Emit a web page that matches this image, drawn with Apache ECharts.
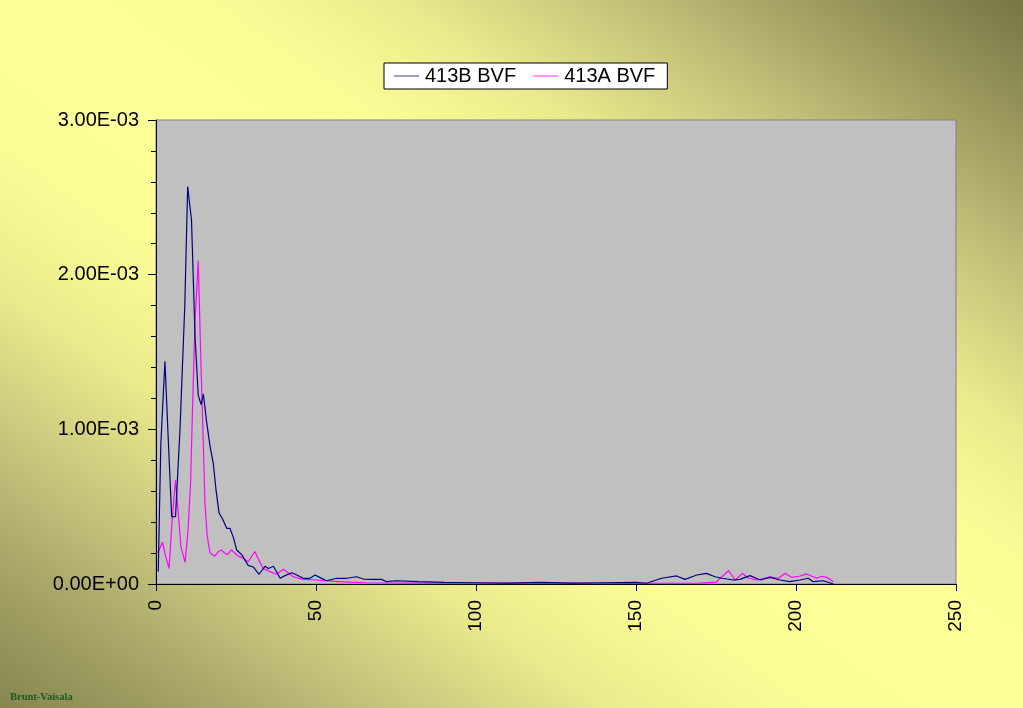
<!DOCTYPE html>
<html>
<head>
<meta charset="utf-8">
<script src="https://cdn.jsdelivr.net/npm/echarts@6/dist/echarts.min.js"></script>
<style>
html,body{margin:0;padding:0;width:1023px;height:708px;overflow:hidden;}
#c{width:1023px;height:708px;
background:linear-gradient(to bottom left,#767645 0%,#9c9a5e 10%,#c4c27a 20%,#eceb8c 31%,#fcfc97 40%,#ffff99 50%,#fcfc97 60%,#eceb8c 70%,#c6c47c 81%,#a2a064 91%,#86864f 100%);}
</style>
</head>
<body>
<div id="c"></div>
<script>
// ---- data ----
const seriesNames = ['413B BVF', '413A BVF'];
const xTicks = [0, 50, 100, 150, 200, 250];
const yTicks = [0, 0.001, 0.002, 0.003];

const x413B = [0.7, 1.5, 2.8, 3.8, 4.9, 6.1, 7.5, 9.0, 9.9, 11.1, 12.2, 13.2, 14.1, 14.8, 15.8, 16.9, 17.9, 18.8, 19.7, 20.8, 22.1, 23.1, 24.2, 25.2, 26.8, 28.8, 30.4, 32.2, 34.1, 35.1, 36.7, 38.8, 40.3, 42.4, 44.0, 46.0, 48.1, 49.7, 51.3, 53.3, 56.5, 59.6, 62.7, 64.8, 67.9, 70.5, 72.0, 75.2, 82, 90, 100, 110, 120, 130, 140, 150, 153.3, 158, 162.7, 165.3, 169, 172, 174.7, 176.8, 180.4, 182.5, 185.6, 188.8, 191.9, 195, 198, 201.3, 203.8, 205.4, 208.5, 211.7];
const y413B = [0.00008, 0.00090, 0.00144, 0.00095, 0.000435, 0.000435, 0.00100, 0.00180, 0.00257, 0.00235, 0.00160, 0.00122, 0.00116, 0.00123, 0.00105, 0.00089, 0.00078, 0.00060, 0.00046, 0.00042, 0.00036, 0.00036, 0.00030, 0.00022, 0.00019, 0.00012, 0.00011, 0.000063, 0.000115, 0.00010, 0.000115, 0.000037, 0.000054, 0.000073, 0.000058, 0.000037, 0.000037, 0.000058, 0.000041, 0.000021, 0.000037, 0.000037, 0.000047, 0.000032, 0.000030, 0.000030, 0.000015, 0.000021, 0.000015, 0.000010, 0.000008, 0.000006, 0.000010, 0.000006, 0.000008, 0.000010, 0.000005, 0.000037, 0.000052, 0.000030, 0.000058, 0.000069, 0.000047, 0.000037, 0.000026, 0.000030, 0.000054, 0.000026, 0.000043, 0.000026, 0.000015, 0.000026, 0.000037, 0.000015, 0.000021, 0.0];

const x413A = [0.2, 1.0, 2.0, 3.0, 4.1, 5.0, 6.1, 7.0, 7.8, 9.1, 10.0, 10.8, 11.5, 12.2, 13.2, 14.1, 14.8, 15.3, 16.0, 16.9, 18.4, 19.5, 20.5, 21.4, 22.3, 23.6, 24.6, 25.7, 27.3, 28.8, 30.9, 32.0, 33.5, 35.6, 37.7, 39.8, 42.9, 46.0, 50.2, 57, 65, 80, 100, 120, 140, 160, 170, 175, 178.9, 181, 183.3, 185.1, 187.7, 191.9, 194.5, 196.6, 198.6, 201, 203.3, 206.5, 208, 209.6, 211.7];
const y413A = [0.00020, 0.00022, 0.00027, 0.00018, 0.00010, 0.00040, 0.00067, 0.00045, 0.00024, 0.00014, 0.00035, 0.00065, 0.00120, 0.00170, 0.00209, 0.00138, 0.00090, 0.00052, 0.00031, 0.00020, 0.00018, 0.00021, 0.00022, 0.00020, 0.00019, 0.00022, 0.00020, 0.00018, 0.000166, 0.000144, 0.00021, 0.00016, 0.00010, 0.00008, 0.000063, 0.000095, 0.000047, 0.000030, 0.000026, 0.000015, 0.000008, 0.000006, 0.000005, 0.000004, 0.000004, 0.000005, 0.000006, 0.000012, 0.000086, 0.000026, 0.000069, 0.000037, 0.000026, 0.000047, 0.000037, 0.000069, 0.000043, 0.000050, 0.000065, 0.000037, 0.000050, 0.000043, 0.000015];

function pairs(xs, ys){ return xs.map((x,i)=>[x, ys[i]]); }
function sci(v){
  const s = Number(v).toExponential(2).toUpperCase();
  return s.replace(/E([+-])(\d+)$/, (m, sg, d) => 'E' + sg + (d.length < 2 ? '0' + d : d));
}

const chart = echarts.init(document.getElementById('c'), null, {renderer:'canvas'});
const font = 'Arial, "Liberation Sans", sans-serif';
chart.setOption({
  backgroundColor: 'transparent',
  animation: false,
  legend: {
    left: 384, top: 63,
    data: seriesNames.map(n => ({name: n, icon: 'rect'})),
    backgroundColor: '#ffffff',
    borderColor: '#000000', borderWidth: 1,
    borderRadius: 0,
    padding: [3, 12, 3, 10],
    itemWidth: 25, itemHeight: 1.2, itemGap: 17,
    textStyle: {fontFamily: font, fontSize: 20, color: '#000', lineHeight: 20, padding: [0, 0, 0, 1]}
  },
  grid: {
    left: 156, right: 67, top: 120, bottom: 124,
    show: true, backgroundColor: '#c0c0c0', borderColor: '#808080', borderWidth: 1
  },
  xAxis: {
    type: 'value', min: xTicks[0], max: xTicks[xTicks.length-1], interval: 50,
    axisLine: {show: true, onZero: false, lineStyle: {color: '#000', width: 1}},
    axisTick: {show: true, length: 7, lineStyle: {color: '#000'}},
    axisLabel: {rotate: 90, margin: 16, fontFamily: font, fontSize: 19, color: '#000'},
    splitLine: {show: false}
  },
  yAxis: {
    type: 'value', min: yTicks[0], max: yTicks[yTicks.length-1], interval: 0.001,
    axisLine: {show: true, lineStyle: {color: '#000', width: 1}},
    axisTick: {show: true, length: 8, lineStyle: {color: '#000'}},
    minorTick: {show: true, splitNumber: 5, length: 5, lineStyle: {color: '#000'}},
    axisLabel: {margin: 17, fontFamily: font, fontSize: 20, color: '#000', formatter: sci},
    splitLine: {show: false},
    minorSplitLine: {show: false}
  },
  series: [
    {name: seriesNames[0], type: 'line', data: pairs(x413B, y413B), symbol: 'none', showSymbol: false,
     lineStyle: {color: '#000080', width: 1.2}, itemStyle: {color: '#5a5aa8'}, z: 3},
    {name: seriesNames[1], type: 'line', data: pairs(x413A, y413A), symbol: 'none', showSymbol: false,
     lineStyle: {color: '#ff00ff', width: 1.2}, itemStyle: {color: '#ff55ff'}, z: 2}
  ],
  graphic: [{
    type: 'text', left: 10, top: 692,
    style: {text: 'Brunt-Vaisala', fontFamily: '"Liberation Serif", "Times New Roman", serif', fontWeight: 'bold', fontSize: 10.5, fill: '#1a5a22'}
  }]
});
</script>
</body>
</html>
